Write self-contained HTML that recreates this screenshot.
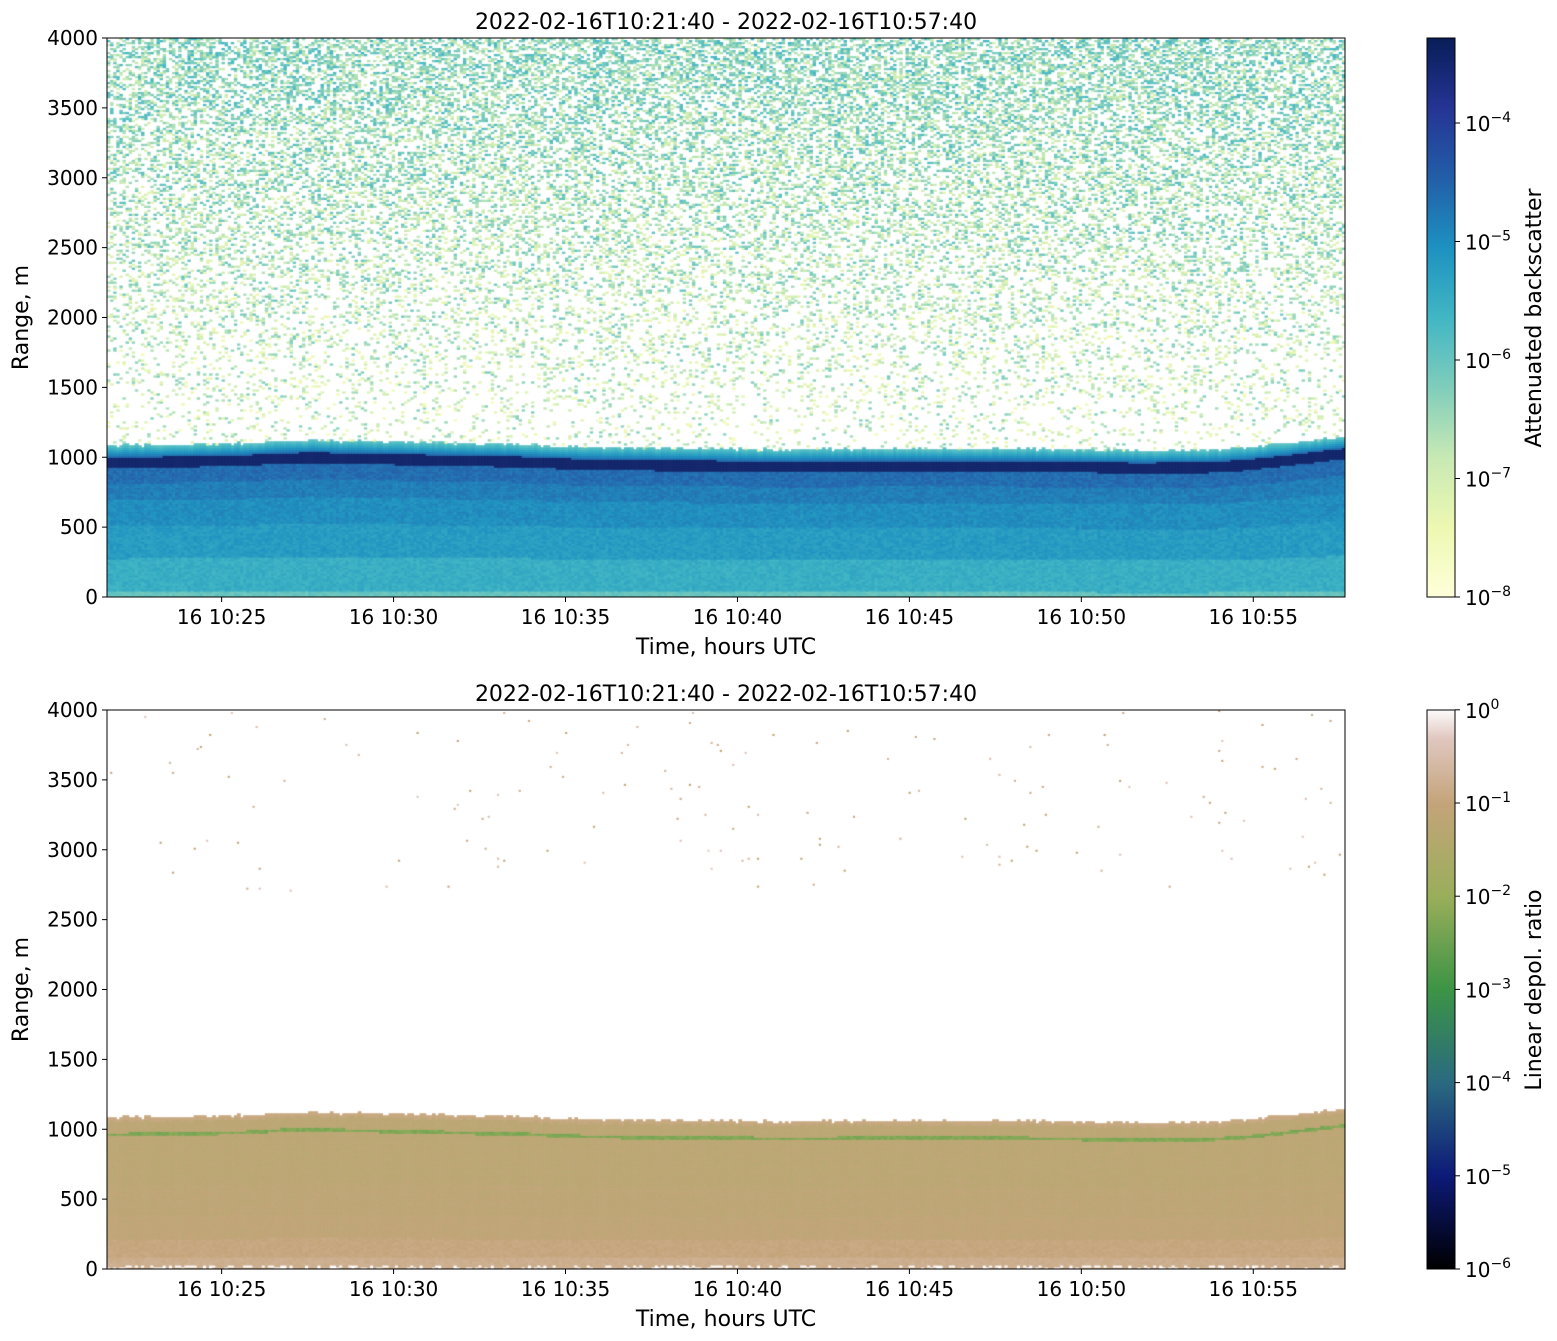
<!DOCTYPE html>
<html><head><meta charset="utf-8">
<style>
body{margin:0;background:#fff;font-family:"DejaVu Sans","Liberation Sans",sans-serif;}
#wrap{position:relative;width:1557px;height:1341px;overflow:hidden;}
canvas{position:absolute;}
svg{position:absolute;left:0;top:0;}
</style></head>
<body>
<div id="wrap">
<canvas id="c1" width="1238" height="559" style="left:107px;top:38px"></canvas>
<canvas id="c2" width="1238" height="559" style="left:107px;top:710px"></canvas>
<svg width="1557" height="1341" id="ov">
<defs>
<linearGradient id="g1" x1="0" y1="1" x2="0" y2="0">
<stop offset="0" stop-color="#ffffd9"/><stop offset="0.125" stop-color="#edf8b1"/><stop offset="0.25" stop-color="#c7e9b4"/><stop offset="0.375" stop-color="#7fcdbb"/><stop offset="0.5" stop-color="#41b6c4"/><stop offset="0.625" stop-color="#1d91c0"/><stop offset="0.75" stop-color="#225ea8"/><stop offset="0.875" stop-color="#253494"/><stop offset="1" stop-color="#081d58"/>
</linearGradient>
<linearGradient id="g2" x1="0" y1="1" x2="0" y2="0">
<stop offset="0" stop-color="#000000"/><stop offset="0.1667" stop-color="#0d1a78"/><stop offset="0.3333" stop-color="#2a6a80"/><stop offset="0.5" stop-color="#3c9445"/><stop offset="0.6667" stop-color="#9aae5a"/><stop offset="0.8333" stop-color="#c4a47a"/><stop offset="0.95" stop-color="#e0c8c0"/><stop offset="1" stop-color="#fdfbfb"/>
</linearGradient>
</defs>
<rect x="1427" y="38" width="28" height="559" fill="url(#g1)" stroke="#000" stroke-width="1"/>
<rect x="1427" y="710" width="28" height="559" fill="url(#g2)" stroke="#000" stroke-width="1"/>
<g id="axg" font-size="20" fill="#000"></g>
</svg>
</div>
<script>
// ---- data ----
const timeMin = [0,2,4,5,6,8,10,12,14,16,18,20,22,24,26,28,30,32,33,34,35,36];
const cloudBase = [965,970,980,995,1000,990,980,970,950,945,940,935,940,940,940,935,925,930,945,970,1000,1030];
const bsLayers = [-6.0,-5.5,-5.2,-5.0,-4.8,-4.6]; // log10 backscatter, by relative height below band
const layerFrac = [0.04,0.3,0.55,0.75,0.88,1.0];
const depolLayers = [-0.8,-0.95,-1.1,-1.15,-1.2,-1.2];
const yTicks = [0,500,1000,1500,2000,2500,3000,3500,4000];
const xTickLabels = ["16 10:25","16 10:30","16 10:35","16 10:40","16 10:45","16 10:50","16 10:55"];
const xTickMin = [3.333,8.333,13.333,18.333,23.333,28.333,33.333];
const cb1Exp = [-8,-7,-6,-5,-4];
const cb2Exp = [-6,-5,-4,-3,-2,-1,0];

const X0=107,W=1238,T1=38,T2=710,H=559;
const xs = m => X0 + m/36*W;
const ys = (r,top) => top + H - r/4000*H;
function hash(a,b){let h=(a*374761393+b*668265263)|0;h=(h^(h>>>13))*1274126177|0;h=h^(h>>>16);return (h>>>0)/4294967296;}
function interp(arrX,arrY,x){for(let i=1;i<arrX.length;i++){if(x<=arrX[i]){const t=(x-arrX[i-1])/(arrX[i]-arrX[i-1]);return arrY[i-1]+t*(arrY[i]-arrY[i-1]);}}return arrY[arrY.length-1];}
function cmapPos(pos,cols,f){f=Math.max(0,Math.min(1,f));let i=0;while(i<pos.length-2&&f>pos[i+1])i++;const t=(f-pos[i])/(pos[i+1]-pos[i]);const a=cols[i],b=cols[i+1];return `rgb(${a.map((v,k)=>Math.round(v+(b[k]-v)*t)).join(',')})`;}
const ylPos=[0,0.125,0.25,0.375,0.5,0.625,0.75,0.875,1];
const ylgnbu=[[255,255,217],[237,248,177],[199,233,180],[127,205,187],[65,182,196],[29,145,192],[34,94,168],[37,52,148],[8,29,88]];
const eaPos=[0,0.1667,0.3333,0.5,0.6667,0.8333,0.95,1];
const earth=[[0,0,0],[13,26,120],[42,106,128],[60,148,69],[154,174,90],[196,164,122],[224,200,192],[253,251,251]];
function layerVal(layers,frac,rel){for(let i=0;i<frac.length;i++) if(rel<=frac[i]) return layers[i];return layers[layers.length-1];}

const NC=400, NR=280;
const cw=W/NC, rh=H/NR;
const c1=document.getElementById('c1').getContext('2d');
const c2=document.getElementById('c2').getContext('2d');
for(let i=0;i<NC;i++){
  const m=(i+0.5)/NC*36;
  const base=interp(timeMin,cloudBase,m);
  const top=base+110+hash(i,7)*20;
  for(let j=0;j<NR;j++){
    const r=(j+0.5)/NR*4000;
    const px=i*cw, py=H-(j+1)*rh;
    const n=hash(i,j);
    if(r<top){
      let v;
      if(Math.abs(r-base)<38) v=-3.45;
      else if(r>=base+38) v=-4.6-(r-base-38)/(top-base-38)*1.3;
      else v=layerVal(bsLayers,layerFrac,r/(base-38))+(n-0.5)*0.3;
      c1.fillStyle=cmapPos(ylPos,ylgnbu,(v+8)/4.73);c1.fillRect(px,py,cw+0.6,rh+0.6);
      let d;
      if(Math.abs(r-base)<12) d=-2.3+(n-0.5)*0.3;
      else if(r>top-25) d=-0.95;
      else d=layerVal(depolLayers,[0.08,0.2,0.35,0.55,0.8,1.0],r/top)+(n-0.5)*0.15;
      if(r<30 && n<0.3) d=0;
      c2.fillStyle=cmapPos(eaPos,earth,(d+6)/6);c2.fillRect(px,py,cw+0.6,rh+0.6);
    } else {
      const p = 0.08 + (r-top)/4000*0.6;
      if(n<p){
        const v=-7.9 + hash(j,i)*1.4 + (r/4000)*0.9;
        c1.fillStyle=cmapPos(ylPos,ylgnbu,(v+8)/4.73);c1.fillRect(px,py,cw+0.3,rh+0.3);
      }
      if(r>2700 && hash(i*3,j*5)<0.004){
        c2.fillStyle=cmapPos(eaPos,earth,0.8+hash(j,i*2)*0.15);c2.fillRect(px,py,cw*0.7,rh);
      }
    }
  }
}
// ---- axes ----
const NS='http://www.w3.org/2000/svg';
const g=document.getElementById('axg');
function el(tag,attrs,txt){const e=document.createElementNS(NS,tag);for(const k in attrs)e.setAttribute(k,attrs[k]);if(txt!==undefined)e.textContent=txt;g.appendChild(e);return e;}
[T1,T2].forEach((top,pi)=>{
  const f=el('rect',{x:X0,y:top,width:W,height:H,fill:'none',stroke:'#000','stroke-width':1});
  
  
  yTicks.forEach(v=>{
    const y=ys(v,top);
    el('line',{x1:X0-5,x2:X0,y1:y,y2:y,stroke:'#000'});
    const t=el('text',{x:X0-9,y:y+7,'text-anchor':'end'},v);
    
    
  });
  xTickMin.forEach((m,k)=>{
    const x=xs(m);
    el('line',{x1:x,x2:x,y1:top+H,y2:top+H+5,stroke:'#000'});
    const t=el('text',{x:x,y:top+H+27,'text-anchor':'middle'},xTickLabels[k]);
    
    
  });
  const xt=el('text',{x:X0+W/2,y:top+H+57,'text-anchor':'middle','font-size':22},'Time, hours UTC');
  
  
  const yt=el('text',{x:0,y:0,'text-anchor':'middle','font-size':22,transform:`translate(28,${top+H/2}) rotate(-90)`},'Range, m');
  
  
  const tt=el('text',{x:X0+W/2,y:top-9,'text-anchor':'middle','font-size':22},'2022-02-16T10:21:40 - 2022-02-16T10:57:40');
  
  
});
function cbTicks(exps,y0,dec){
  exps.forEach(e=>{
    const y=y0-(e-exps[0])*dec;
    el('line',{x1:1455,x2:1460,y1:y,y2:y,stroke:'#000'});
    const t=el('text',{x:1465,y:y+8},'10');
    
    
    const s=document.createElementNS(NS,'tspan');s.setAttribute('dy','-9');s.setAttribute('font-size','14');s.textContent=(e<0?'\u2212':'')+Math.abs(e);t.appendChild(s);
  });
}
cbTicks(cb1Exp,597,118.5);
cbTicks(cb2Exp,1269,93.2);
const l1=el('text',{x:0,y:0,'text-anchor':'middle','font-size':22,transform:'translate(1541,318) rotate(-90)'},'Attenuated backscatter');


const l2=el('text',{x:0,y:0,'text-anchor':'middle','font-size':22,transform:'translate(1541,990) rotate(-90)'},'Linear depol. ratio');


</script>
</body></html>
